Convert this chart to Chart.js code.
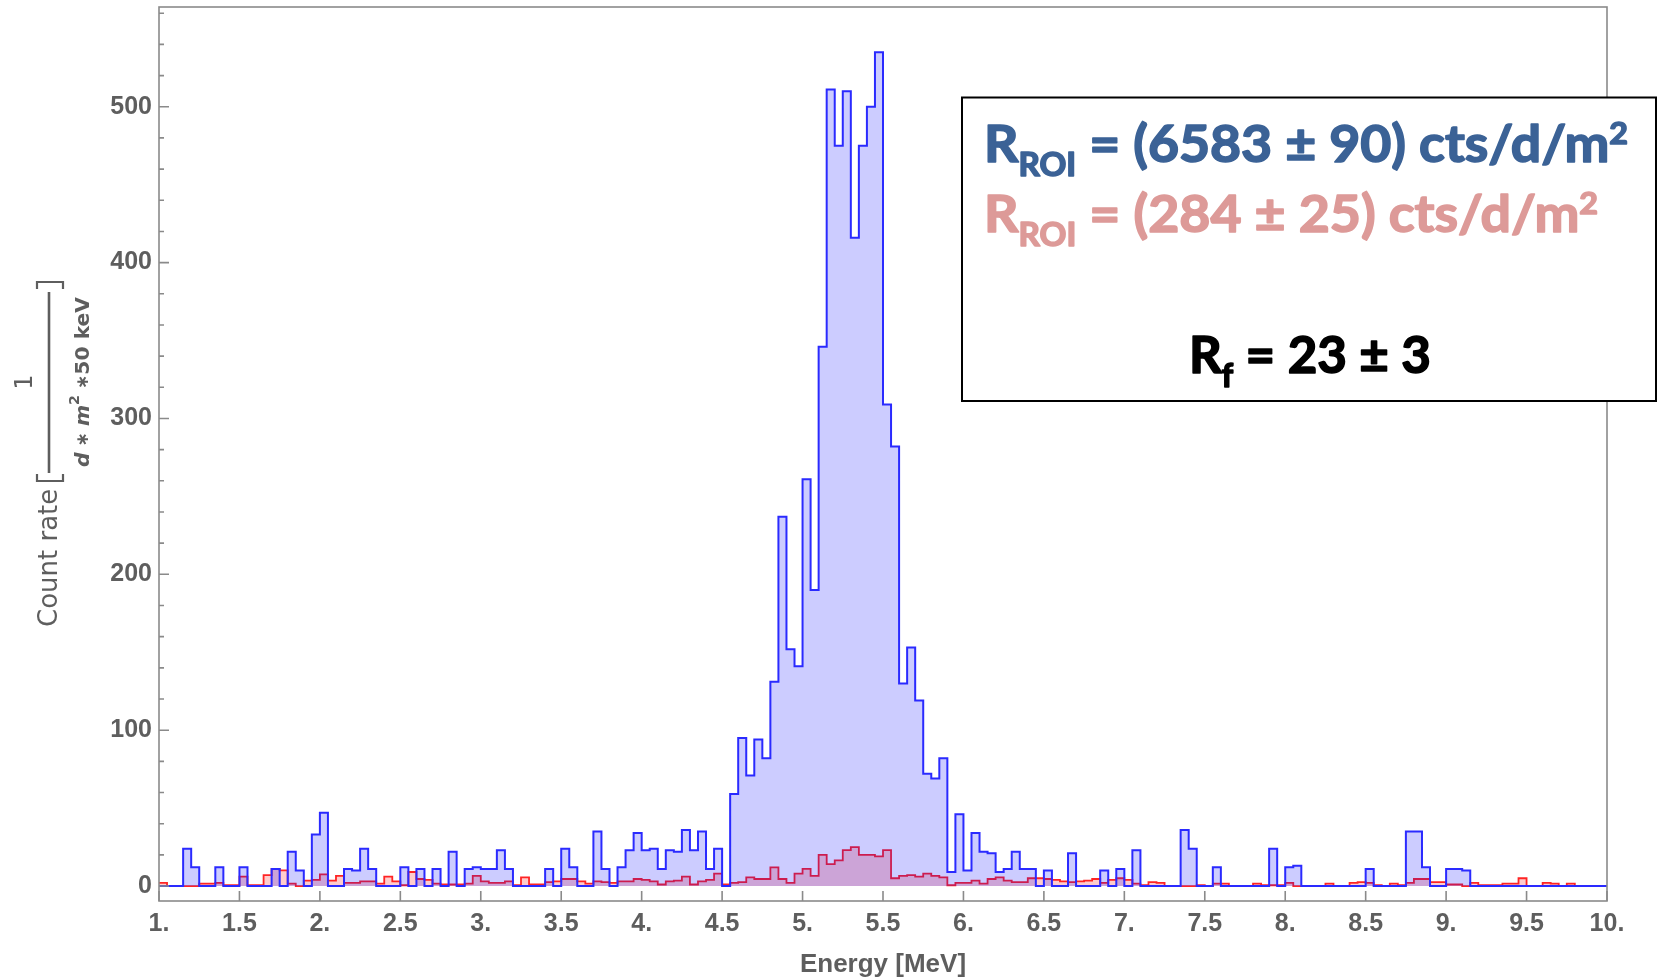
<!DOCTYPE html>
<html>
<head>
<meta charset="utf-8">
<title>Energy spectrum</title>
<script src="https://cdn.jsdelivr.net/npm/chart.js@4.4.0/dist/chart.umd.min.js"></script>
<style>
  html, body { margin: 0; padding: 0; background: #fff; }
  #wrap { width: 1663px; height: 980px; }
</style>
</head>
<body>
<div id="wrap"><canvas id="spectrum" width="1663" height="980"></canvas></div>
<script>
// binning of the spectrum (MeV)
const energyMin = 1.0;
const energyMax = 10.0;
const binWidth = 0.05;

// count rate per 50 keV bin
const sampleRate = [
  0, 0, 0, 24, 12, 0, 0, 12, 0, 0,
  12, 0, 0, 0, 11, 0, 22, 10, 0, 33,
  47, 0, 0, 11, 10, 24, 11, 0, 0, 0,
  12, 0, 11, 0, 11, 0, 22, 0, 11, 12,
  11, 11, 23, 11, 0, 0, 0, 0, 11, 0,
  24, 12, 0, 0, 35, 11, 0, 12, 23, 34,
  23, 24, 11, 23, 22, 36, 23, 35, 11, 24,
  0, 59, 95, 71, 94, 82, 131, 237, 152, 141,
  261, 190, 346, 511, 475, 510, 416, 475, 500, 535,
  309, 282, 130, 153, 119, 72, 69, 82, 9, 46,
  10, 34, 22, 21, 9, 11, 22, 11, 11, 0,
  10, 0, 0, 21, 0, 0, 0, 10, 0, 11,
  0, 23, 0, 0, 0, 0, 0, 36, 24, 0,
  0, 12, 0, 0, 0, 0, 0, 0, 24, 0,
  12, 13, 0, 0, 0, 0, 0, 0, 0, 0,
  11, 0, 0, 0, 0, 35, 35, 12, 0, 0,
  11, 11, 10, 0, 0, 0, 0, 0, 0, 0,
  0, 0, 0, 0, 0, 0, 0, 0, 0, 0
];
const referenceRate = [
  2, 0, 0, 0, 0, 1.5, 1.5, 2, 0.5, 0.5,
  6, 0.5, 0.5, 7, 11, 10, 1.5, 0, 3.5, 4,
  7.5, 3.5, 6.5, 2, 2, 3, 3, 1.5, 6, 3,
  0.5, 9, 4.5, 4, 1.5, 1, 1, 1, 1.5, 6.5,
  3, 2, 2, 3, 0.5, 5.5, 1, 1, 2.5, 3,
  4.5, 4.5, 3, 1.5, 3, 2.5, 2, 3, 3, 4.5,
  4, 3, 1, 3, 3.5, 6, 1, 3, 4, 8,
  1, 2, 2.5, 5.5, 4.5, 4.5, 12, 4.5, 2, 8,
  11, 6.5, 20, 14, 16.5, 23, 25, 20, 20, 19,
  23, 5, 6.5, 7, 6, 8, 6.5, 5.5, 0.5, 2,
  2, 3.5, 1.5, 4.5, 5.5, 3.5, 2.5, 2.5, 5, 5,
  4.5, 4, 3, 2.5, 3, 3.5, 4.5, 2, 4, 5,
  4, 1.5, 0.5, 2.5, 2, 0, 0, 0, 0, 0.5,
  0, 1.5, 1.5, 0, 0, 0, 1.5, 0.5, 0.5, 0.5,
  2, 0, 0, 0, 0, 1.5, 0, 0, 2, 2.5,
  2, 0.5, 0, 1.5, 0.5, 2, 4.5, 4.5, 2.5, 2.5,
  1, 1, 0, 2, 0.5, 0.5, 0.5, 1.5, 1.5, 5,
  0, 0, 2, 1.5, 0, 1.5, 0, 0, 0, 0
];

const xTickValues = [1, 1.5, 2, 2.5, 3, 3.5, 4, 4.5, 5, 5.5, 6, 6.5, 7, 7.5, 8, 8.5, 9, 9.5, 10];
const yTickValues = [0, 100, 200, 300, 400, 500];
const yMinorStep = 20;

const frameColor = "#8a8a8a";
const labelColor = "#5e5e5e";

// histogram -> step points at the low edge of each bin
function toSteps(values){
  const pts = values.map((v, i) => ({ x: +(energyMin + i * binWidth).toFixed(2), y: v }));
  pts.push({ x: energyMax, y: values[values.length - 1] });
  return pts;
}

// draw a line of text made of segments (sub/superscripts), squeezed to a width
function drawRich(ctx, segs, left, right, baseline, color, size, family){
  ctx.save();
  let total = 0;
  const widths = segs.map(s => {
    ctx.font = `bold ${size * s.scale}px ${family}`;
    const w = ctx.measureText(s.text).width;
    total += w;
    return w;
  });
  ctx.translate(left, baseline);
  ctx.scale((right - left) / total, 1);
  ctx.fillStyle = color;
  ctx.strokeStyle = color;
  ctx.lineWidth = 1.6;
  ctx.lineJoin = "round";
  ctx.textAlign = "left";
  ctx.textBaseline = "alphabetic";
  let x = 0;
  segs.forEach((s, i) => {
    ctx.font = `bold ${size * s.scale}px ${family}`;
    ctx.fillText(s.text, x, s.dy);
    ctx.strokeText(s.text, x, s.dy);
    x += widths[i];
  });
  ctx.restore();
}

const frameAndTicks = {
  id: "frameAndTicks",
  afterDraw(chart){
    const { ctx, chartArea: a, scales: { x, y } } = chart;
    ctx.save();
    ctx.strokeStyle = frameColor;
    ctx.lineWidth = 1.6;
    ctx.strokeRect(a.left, a.top, a.right - a.left, a.bottom - a.top);
    ctx.beginPath();
    xTickValues.forEach(v => {
      const px = x.getPixelForValue(v);
      ctx.moveTo(px, a.bottom);
      ctx.lineTo(px, a.bottom - 10);
    });
    for(let v = 0; v <= y.max; v += yMinorStep){
      const py = y.getPixelForValue(v);
      ctx.moveTo(a.left, py);
      ctx.lineTo(a.left + (v % 100 === 0 ? 10 : 5), py);
    }
    ctx.stroke();
    ctx.restore();
  }
};

// rotated y axis title: Count rate [ 1 / (d*m^2*50 keV) ]
const yTitle = {
  id: "yTitle",
  afterDraw(chart){
    const ctx = chart.ctx;
    ctx.save();
    ctx.fillStyle = labelColor;
    ctx.strokeStyle = labelColor;

    ctx.save();
    ctx.translate(50, 627);
    ctx.rotate(-Math.PI / 2);
    ctx.font = "26px 'DejaVu Sans'";
    ctx.textAlign = "left";
    ctx.textBaseline = "middle";
    ctx.fillText("Count rate", 0, 0);
    ctx.restore();

    // brackets
    ctx.lineWidth = 2.2;
    ctx.beginPath();
    ctx.moveTo(37, 474); ctx.lineTo(37, 481); ctx.lineTo(63, 481); ctx.lineTo(63, 474);
    ctx.moveTo(37, 289); ctx.lineTo(37, 282); ctx.lineTo(63, 282); ctx.lineTo(63, 289);
    ctx.stroke();
    // fraction bar
    ctx.lineWidth = 2.6;
    ctx.beginPath();
    ctx.moveTo(49, 473); ctx.lineTo(49, 292);
    ctx.stroke();

    // numerator
    ctx.save();
    ctx.translate(26, 382);
    ctx.rotate(-Math.PI / 2);
    ctx.font = "24px 'DejaVu Sans'";
    ctx.textAlign = "center";
    ctx.textBaseline = "middle";
    ctx.fillText("1", 0, 0);
    ctx.restore();

    // denominator
    const segs = [
      { text: "d", font: "italic bold 20px 'DejaVu Sans'", dy: 0 },
      { text: " \u2217 ", font: "bold 17px 'DejaVu Sans'", dy: 0 },
      { text: "m", font: "italic bold 20px 'DejaVu Sans'", dy: 0 },
      { text: "2", font: "bold 14px 'DejaVu Sans'", dy: -9 },
      { text: " \u2217", font: "bold 17px 'DejaVu Sans'", dy: 0 },
      { text: "50 keV", font: "bold 20px 'DejaVu Sans'", dy: 0 }
    ];
    ctx.save();
    ctx.translate(84, 382);
    ctx.rotate(-Math.PI / 2);
    ctx.textAlign = "left";
    ctx.textBaseline = "middle";
    let total = 0;
    const w = segs.map(s => { ctx.font = s.font; const m = ctx.measureText(s.text).width; total += m; return m; });
    ctx.scale(170 / total, 1);
    let ux = -total / 2;
    segs.forEach((s, i) => { ctx.font = s.font; ctx.fillText(s.text, ux, s.dy); ux += w[i]; });
    ctx.restore();

    ctx.restore();
  }
};

// result box in the upper right
const resultBox = {
  id: "resultBox",
  afterDraw(chart){
    const ctx = chart.ctx;
    const family = "Lato, 'Open Sans', sans-serif";
    ctx.save();
    ctx.fillStyle = "#ffffff";
    ctx.fillRect(962, 97.5, 694, 303.5);
    ctx.strokeStyle = "#000000";
    ctx.lineWidth = 2;
    ctx.strokeRect(962, 97.5, 694, 303.5);
    ctx.restore();

    drawRich(ctx, [
      { text: "R", scale: 1, dy: 0 },
      { text: "ROI", scale: 0.62, dy: 14 },
      { text: " = (6583 \u00b1 90) cts/d/m", scale: 1, dy: 0 },
      { text: "2", scale: 0.6, dy: -18 }
    ], 984, 1628, 162, "#3b6296", 52, family);

    drawRich(ctx, [
      { text: "R", scale: 1, dy: 0 },
      { text: "ROI", scale: 0.62, dy: 14 },
      { text: " = (284 \u00b1 25) cts/d/m", scale: 1, dy: 0 },
      { text: "2", scale: 0.6, dy: -18 }
    ], 984, 1598, 232, "#dd9a98", 52, family);

    drawRich(ctx, [
      { text: "R", scale: 1, dy: 0 },
      { text: "f", scale: 0.62, dy: 14 },
      { text: " = 23 \u00b1 3", scale: 1, dy: 0 }
    ], 1189, 1431, 373, "#000000", 52, family);
  }
};

const tickFont = { family: "'Liberation Sans', Arial, sans-serif", weight: "bold", size: 25 };

new Chart(document.getElementById("spectrum"), {
  type: "line",
  data: {
    datasets: [
      {
        label: "sample",
        data: toSteps(sampleRate),
        stepped: true,
        borderColor: "#2a2aff",
        borderWidth: 2,
        backgroundColor: "rgba(0,0,255,0.2)",
        fill: "origin",
        pointRadius: 0
      },
      {
        label: "reference",
        data: toSteps(referenceRate),
        stepped: true,
        borderColor: "#ff2424",
        borderWidth: 1.8,
        backgroundColor: "rgba(255,0,0,0.2)",
        fill: "origin",
        pointRadius: 0
      }
    ]
  },
  options: {
    responsive: false,
    animation: false,
    devicePixelRatio: 1,
    layout: { padding: { top: 7, right: 56, left: 0, bottom: 0 } },
    plugins: { legend: { display: false }, tooltip: { enabled: false } },
    scales: {
      x: {
        type: "linear",
        min: energyMin,
        max: energyMax,
        afterBuildTicks: s => { s.ticks = xTickValues.map(v => ({ value: v })); },
        afterFit: s => { s.height = 79; s.paddingLeft = 0; s.paddingRight = 0; },
        grid: { display: false, drawTicks: false },
        border: { display: false },
        ticks: {
          padding: 8,
          maxRotation: 0,
          autoSkip: false,
          color: labelColor,
          font: tickFont,
          callback: v => Number.isInteger(v) ? v + "." : String(v)
        },
        title: {
          display: true,
          text: "Energy [MeV]",
          color: labelColor,
          font: { family: "'Liberation Sans', Arial, sans-serif", weight: "bold", size: 26 },
          padding: { top: 0, bottom: 0 }
        }
      },
      y: {
        min: -9.6,
        max: 564,
        afterBuildTicks: s => { s.ticks = yTickValues.map(v => ({ value: v })); },
        afterFit: s => { s.width = 159; s.paddingTop = 0; s.paddingBottom = 0; },
        grid: { display: false, drawTicks: false },
        border: { display: false },
        ticks: { padding: 7, color: labelColor, font: tickFont }
      }
    }
  },
  plugins: [frameAndTicks, yTitle, resultBox]
});
</script>
</body>
</html>
